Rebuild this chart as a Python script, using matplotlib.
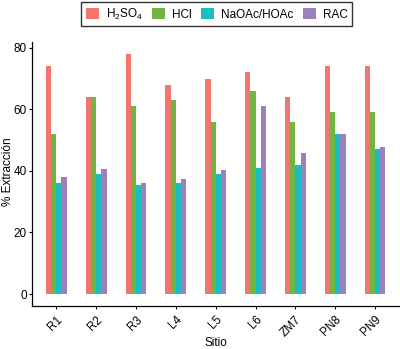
import numpy as np
import matplotlib
matplotlib.use('Agg')
import matplotlib.pyplot as plt
from matplotlib.patches import Patch

sitios = ['R1', 'R2', 'R3', 'L4', 'L5', 'L6', 'ZM7', 'PN8', 'PN9']
h2so4 = [74, 64, 78, 68, 70, 72, 64, 74, 74]
hcl = [52, 64, 61, 63, 56, 66, 56, 59, 59]
naoac = [36.2, 39, 35.3, 36.2, 39, 41, 42, 52, 47.2]
rac = [38.1, 40.6, 36.2, 37.5, 40.3, 61, 45.8, 52, 47.8]

series = [h2so4, hcl, naoac, rac]
etiquetas = ['H$_2$SO$_4$', 'HCl', 'NaOAc/HOAc', 'RAC']
colores = ['#F3766E', '#74B443', '#1BBDC4', '#9D81BD']

plt.rcParams['font.family'] = ['Liberation Sans', 'DejaVu Sans']
plt.rcParams['mathtext.fontset'] = 'custom'
plt.rcParams['mathtext.rm'] = 'Liberation Sans'

fig = plt.figure(figsize=(4, 3.49), dpi=100)
ax = fig.add_axes([0.081, 0.123, 0.9165, 0.757])

x = np.arange(len(sitios))
w = 0.13
for i, (vals, c) in enumerate(zip(series, colores)):
    ax.bar(x + (i - 1.5) * w, vals, width=w, color=c, linewidth=0)

ax.set_xlim(-0.6, len(sitios) - 0.4)
ax.set_ylim(-3.9, 81.9)
ax.set_yticks([0, 20, 40, 60, 80])
ax.set_xticks(x)
ax.set_xticklabels(sitios, rotation=45, ha='right', va='top', rotation_mode='anchor')
ax.tick_params(labelsize=8.5, colors='black', length=2.5, width=0.8, pad=1.5)
ax.tick_params(axis='x', pad=3)
for s in ['top', 'right']:
    ax.spines[s].set_visible(False)
for s in ['left', 'bottom']:
    ax.spines[s].set_linewidth(0.9)

ax.set_xlabel('Sitio', fontsize=8.5)
ax.xaxis.label.set_va('center')
ax.xaxis.set_label_coords(0.5, -0.14)
ax.set_ylabel('% Extracción', fontsize=8.5)
ax.yaxis.label.set_va('center')
ax.yaxis.set_label_coords(-0.067, 0.51)

handles = [Patch(facecolor=c, edgecolor='none') for c in colores]
leg = fig.legend(handles, etiquetas, loc='upper center', bbox_to_anchor=(0.542, 0.993),
                 ncol=4, fontsize=8.5, frameon=True, fancybox=False,
                 handlelength=1.1, handleheight=1.1, handletextpad=0.6,
                 columnspacing=0.8, borderpad=0.35, borderaxespad=0.0)
leg.get_frame().set_edgecolor('black')
leg.get_frame().set_linewidth(1.0)

plt.savefig('out.png', dpi=100)
